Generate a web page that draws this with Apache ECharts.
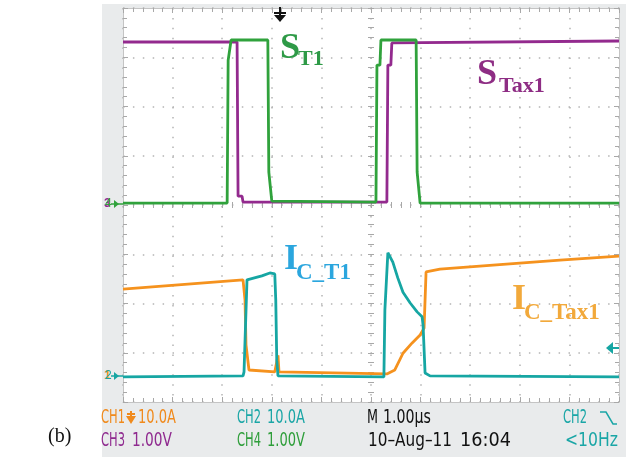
<!DOCTYPE html>
<html>
<head>
<meta charset="utf-8">
<script src="https://cdn.jsdelivr.net/npm/echarts@6/dist/echarts.min.js"></script>
<style>
html,body{margin:0;padding:0;background:#fff;}
#c{width:626px;height:457px;}
</style>
</head>
<body>
<div id="c"></div>
<script>
// Time axis in divisions (1.00 us/div), amplitude in divisions (ground reference lines)
const xTicks = [-5, 5];          // 10 horizontal divisions
const yTicks = [-4, 4];          // 8 vertical divisions

// CH3 (purple, S_Tax1)
const ch3 = [[-5,3.31],[-2.70,3.31],[-2.68,0.18],[-2.60,0.18],[-2.58,0.06],[0.32,0.06],[0.34,2.84],[0.40,2.84],[0.42,3.29],[5,3.33]];
// CH4 (green, S_T1)
const ch4 = [[-5,0.04],[-2.90,0.04],[-2.88,2.94],[-2.84,2.94],[-2.82,3.35],[-2.08,3.35],[-2.06,0.67],[-2.02,0.67],[-2.00,0.08],[0.10,0.06],[0.12,2.84],[0.18,2.84],[0.20,3.35],[0.91,3.35],[0.93,0.67],[0.97,0.67],[0.99,0.04],[5,0.04]];
// CH1 (orange, I_C_Tax1)
const ch1 = [[-5,-1.71],[-2.58,-1.52],[-2.54,-1.93],[-2.52,-2.84],[-2.48,-2.84],[-2.46,-3.35],[-1.94,-3.39],[-1.90,-3.39],[-1.875,-3.05],[-1.855,-3.39],[0.32,-3.43],[0.48,-3.35],[0.645,-3.01],[0.83,-2.80],[0.99,-2.64],[1.07,-2.50],[1.11,-1.36],[1.39,-1.30],[2.46,-1.22],[3.81,-1.12],[5,-1.04]];
// CH2 (teal, I_C_T1)
const ch2 = [[-5,-3.49],[-2.58,-3.47],[-2.56,-3.39],[-2.52,-3.39],[-2.50,-1.52],[-2.46,-1.48],[-2.20,-1.44],[-2.04,-1.38],[-1.94,-1.40],[-1.92,-1.93],[-1.90,-3.15],[-1.875,-3.47],[0.26,-3.49],[0.28,-2.13],[0.32,-2.13],[0.34,-0.97],[0.38,-0.95],[0.44,-1.16],[0.54,-1.48],[0.645,-1.77],[0.79,-1.99],[0.93,-2.17],[1.03,-2.27],[1.05,-2.44],[1.09,-3.41],[1.19,-3.47],[5,-3.49]];

// status read-out texts
const row1 = ['CH1', '10.0A', 'CH2', '10.0A', 'M', '1.00\u00b5s', 'CH2'];
const row2 = ['CH3', '1.00V', 'CH4', '1.00V', '10\u2013Aug\u201311', '16:04', '<10Hz'];

const C = {purple:'#932A8E', green:'#30A23C', orange:'#F5921E', teal:'#16A6A3'};

const chart = echarts.init(document.getElementById('c'), null, {renderer:'canvas'});

const gridLine = {show:true, lineStyle:{color:'#B4B4B4', width:1.5, type:[1.5,8.4]}};
const edgeTick = {show:true, inside:true, length:5, lineStyle:{color:'#A8A8A8', width:1}};
const edgeMinor = {show:true, splitNumber:5, length:4, lineStyle:{color:'#A8A8A8', width:1}};
const centerTick = {show:true, inside:true, length:6, lineStyle:{color:'#A8A8A8', width:1}};
const centerMinor = {show:true, splitNumber:5, length:6, lineStyle:{color:'#A8A8A8', width:1}};

function xAx(pos, extra){
  return Object.assign({type:'value', min:xTicks[0], max:xTicks[1], interval:1, position:pos,
    axisLabel:{show:false}, axisLine:{show:true, onZero:false, lineStyle:{color:'#C4C4C4', width:1}},
    axisTick:edgeTick, minorTick:edgeMinor, splitLine:{show:false}}, extra||{});
}
function yAx(pos, extra){
  return Object.assign({type:'value', min:yTicks[0], max:yTicks[1], interval:1, position:pos,
    axisLabel:{show:false}, axisLine:{show:true, onZero:false, lineStyle:{color:'#C4C4C4', width:1}},
    axisTick:edgeTick, minorTick:edgeMinor, splitLine:{show:false}}, extra||{});
}

function line(data, color, z){
  return {type:'line', data:data, xAxisIndex:0, yAxisIndex:0, showSymbol:false, symbol:'none',
    lineStyle:{color:color, width:2.8}, z:z, animation:false};
}

function txt(x, y, s, font, fill, align){
  return {type:'text', x:x, y:y, z:100, style:{text:s, font:font, fill:fill, textAlign:align||'left', textVerticalAlign:'middle'}};
}

const mctx = document.createElement('canvas').getContext('2d');
const scopeFont = '18px "Liberation Sans Narrow", "DejaVu Sans Condensed", sans-serif';
function stxt(x, y, s, w, fill){
  mctx.font = scopeFont;
  const m = mctx.measureText(s).width || w;
  return {type:'text', x:x, y:y, z:100, scaleX:w/m, scaleY:1.1,
    style:{text:s, font:scopeFont, fill:fill, textAlign:'left', textVerticalAlign:'middle'}};
}

const serifB = (n)=> 'bold '+n+'px "Liberation Serif", "DejaVu Serif", serif';

const option = {
  animation:false,
  grid:{left:123, top:8, width:496, height:394, show:true, backgroundColor:'#ffffff', borderWidth:0, z:0},
  xAxis:[
    xAx('bottom', {splitLine:gridLine}),
    xAx('top'),
    xAx('bottom', {offset:-194, axisLine:{show:false, onZero:false}, axisTick:centerTick, minorTick:centerMinor})
  ],
  yAxis:[
    yAx('left', {splitLine:gridLine}),
    yAx('right'),
    yAx('left', {offset:-245, axisLine:{show:false, onZero:false}, axisTick:centerTick, minorTick:centerMinor})
  ],
  series:[
    line(ch3, C.purple, 2),
    line(ch4, C.green, 3),
    line(ch1, C.orange, 4),
    line(ch2, C.teal, 5)
  ],
  graphic:{elements:[
    {type:'rect', z:-100, shape:{x:102, y:4, width:524, height:453}, style:{fill:'#E9EBEC'}},
    // trace labels
    txt(280, 49, 'S', serifB(36), '#2E9A47'),
    txt(298, 59, 'T1', serifB(22), '#2E9A47'),
    txt(477, 75, 'S', serifB(36), '#8E2D84'),
    txt(499, 86, 'Tax1', serifB(22), '#8E2D84'),
    txt(284, 260, 'I', serifB(36), '#2BA6DE'),
    txt(296, 273, 'C_T1', serifB(23), '#2BA6DE'),
    txt(512, 300, 'I', serifB(36), '#F2A93B'),
    txt(524, 313, 'C_Tax1', serifB(23), '#F2A93B'),
    // ground markers
    txt(104, 204, '3', 'bold 12px "Liberation Sans"', C.purple),
    txt(105, 204, '4', '12px "Liberation Sans"', C.green),
    {type:'polyline', z:100, shape:{points:[[111,204],[123,204]]}, style:{stroke:C.green, lineWidth:1.5}},
    {type:'polygon', z:100, shape:{points:[[114,200],[119,204],[114,208]]}, style:{fill:C.green}},
    txt(104, 376, '1', 'bold 12px "Liberation Sans"', C.orange),
    txt(105, 376, '2', '12px "Liberation Sans"', C.teal),
    {type:'polyline', z:100, shape:{points:[[111,376],[123,376]]}, style:{stroke:C.teal, lineWidth:1.5}},
    {type:'polygon', z:100, shape:{points:[[114,372],[119,376],[114,380]]}, style:{fill:C.teal}},
    // trigger level arrow (right)
    {type:'polyline', z:100, shape:{points:[[609,348],[619,348]]}, style:{stroke:C.teal, lineWidth:2}},
    {type:'polygon', z:100, shape:{points:[[606,348],[613,342],[613,354]]}, style:{fill:C.teal}},
    // trigger position arrow (top)
    {type:'polyline', z:100, shape:{points:[[280,7],[280,15]]}, style:{stroke:'#111', lineWidth:2}},
    {type:'polyline', z:100, shape:{points:[[274,13],[286,13]]}, style:{stroke:'#111', lineWidth:2}},
    {type:'polygon', z:100, shape:{points:[[274,15],[286,15],[280,22]]}, style:{fill:'#111'}},
    // status lines
    stxt(101, 418, row1[0], 24, '#F08A1C'),
    {type:'polyline', z:100, shape:{points:[[131,411],[131,420]]}, style:{stroke:'#F08A1C', lineWidth:2}},
    {type:'polyline', z:100, shape:{points:[[127,414],[135,414]]}, style:{stroke:'#F08A1C', lineWidth:2}},
    {type:'polygon', z:100, shape:{points:[[126,416],[136,416],[131,424]]}, style:{fill:'#F08A1C'}},
    stxt(138, 418, row1[1], 38, '#F08A1C'),
    stxt(237, 418, row1[2], 24, '#1AA6A6'),
    stxt(267, 418, row1[3], 38, '#1AA6A6'),
    stxt(367, 418, row1[4], 11, '#111111'),
    stxt(383, 418, row1[5], 48, '#111111'),
    stxt(563, 418, row1[6], 24, '#1AA6A6'),
    {type:'polyline', z:100, shape:{points:[[600,412],[606,412],[613,424],[617,424]]}, style:{stroke:'#1AA6A6', lineWidth:1.5, fill:null}},
    stxt(101, 441, row2[0], 24, '#8F2A8F'),
    stxt(132, 441, row2[1], 40, '#8F2A8F'),
    stxt(237, 441, row2[2], 24, '#2E9E3A'),
    stxt(267, 441, row2[3], 38, '#2E9E3A'),
    stxt(368, 441, row2[4], 84, '#111111'),
    stxt(460, 441, row2[5], 51, '#111111'),
    stxt(565, 441, row2[6], 53, '#1AA6A6'),
    txt(48, 437, '(b)', '20px "Liberation Serif", serif', '#111111')
  ]}
};
chart.setOption(option);
</script>
</body>
</html>
